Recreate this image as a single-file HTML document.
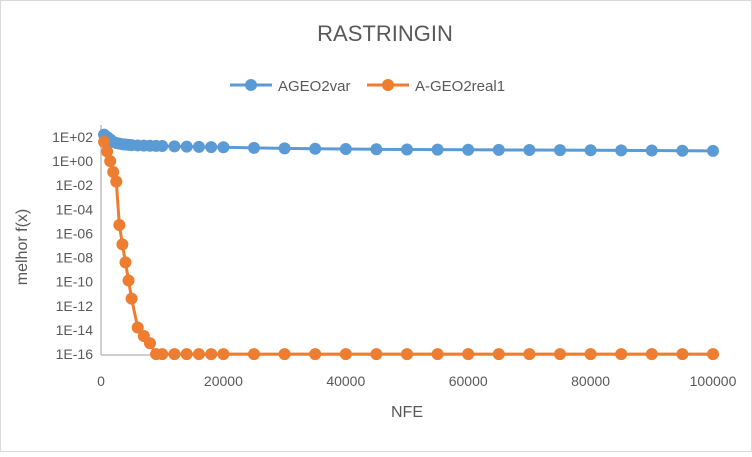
<!DOCTYPE html>
<html><head><meta charset="utf-8"><style>
body{margin:0;background:#fff}
svg text{font-family:"Liberation Sans",sans-serif;fill:#595959}
</style></head><body>
<svg width="752" height="452" viewBox="0 0 752 452">
<rect x="0.5" y="0.5" width="751" height="451" fill="#fff" stroke="#d9d9d9"/>
<text x="385" y="41" font-size="22" text-anchor="middle">RASTRINGIN</text>
<g>
<g><line x1="230" y1="85" x2="272" y2="85" stroke="#5b9bd5" stroke-width="3"/><circle cx="251" cy="85" r="6" fill="#5b9bd5"/><text x="278" y="91" font-size="15">AGEO2var</text></g>
<g><line x1="367" y1="85" x2="409" y2="85" stroke="#ed7d31" stroke-width="3"/><circle cx="388" cy="85" r="6" fill="#ed7d31"/><text x="415" y="91" font-size="15">A-GEO2real1</text></g>
</g>
<text transform="translate(27,247) rotate(-90)" font-size="16" text-anchor="middle">melhor f(x)</text>
<text x="407" y="417" font-size="16" text-anchor="middle">NFE</text>
<g id="axes"></g><g id="series"></g>
</svg>
<script>
const xTicks=[0,20000,40000,60000,80000,100000];
const yTicks=[2,0,-2,-4,-6,-8,-10,-12,-14,-16];
const nfeA=[500,1000,1500,2000,2500,3000,3500,4000,4500,5000,6000,7000,8000,9000,10000,12000,14000,16000,18000,20000,25000,30000,35000,40000,45000,50000,55000,60000,65000,70000,75000,80000,85000,90000,95000,100000];
const ageo2var=[2.2,2.0,1.8,1.6,1.5,1.45,1.4,1.38,1.35,1.33,1.3,1.28,1.27,1.26,1.25,1.22,1.2,1.18,1.16,1.15,1.1,1.06,1.03,1.0,0.98,0.96,0.95,0.94,0.93,0.92,0.91,0.9,0.89,0.88,0.86,0.85];
const ageo2real1=[1.6,0.8,0.0,-0.9,-1.7,-5.3,-6.9,-8.4,-9.9,-11.4,-13.8,-14.5,-15.1,-16,-16,-16,-16,-16,-16,-16,-16,-16,-16,-16,-16,-16,-16,-16,-16,-16,-16,-16,-16,-16,-16,-16];
const X=v=>101+v/100000*612, Y=l=>137+(2-l)*12.06;
const NS='http://www.w3.org/2000/svg';
const ax=document.getElementById('axes'), se=document.getElementById('series');
function mk(t,a,p){const e=document.createElementNS(NS,t);for(const k in a)e.setAttribute(k,a[k]);p.appendChild(e);return e;}
let e=mk('line',{x1:101,y1:125,x2:101,y2:355,stroke:'#bfbfbf','stroke-width':1.5},ax);


e=mk('line',{x1:101,y1:355,x2:713,y2:355,stroke:'#bfbfbf','stroke-width':1.5},ax);


yTicks.forEach(l=>{const t=mk('text',{x:93,y:Y(l)+5,'font-size':14,'text-anchor':'end'},ax);t.textContent='1E'+(l>=0?'+':'-')+String(Math.abs(l)).padStart(2,'0');

});
xTicks.forEach(v=>{const t=mk('text',{x:X(v),y:386,'font-size':14,'text-anchor':'middle'},ax);t.textContent=v;

});
function series(vals,col,name){
const g=mk('g',{},se);


mk('polyline',{points:nfeA.map((x,i)=>X(x)+','+Y(vals[i])).join(' '),fill:'none',stroke:col,'stroke-width':3,'stroke-linejoin':'round'},g);
nfeA.forEach((x,i)=>{const c=mk('circle',{cx:X(x),cy:Y(vals[i]),r:6,fill:col},g);

});
}
series(ageo2var,'#5b9bd5','series-ageo2var');
series(ageo2real1,'#ed7d31','series-ageo2real1');
</script>
</body></html>
